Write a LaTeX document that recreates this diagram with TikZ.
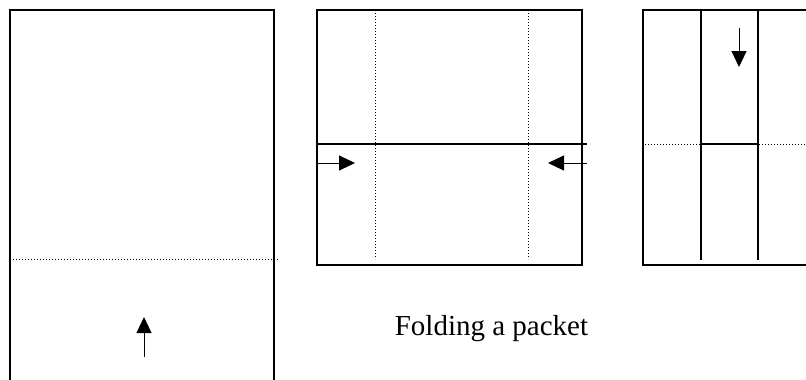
\documentclass[tikz,border=0pt]{standalone}
\usepackage{fontspec}
\setmainfont{Liberation Serif}
\usetikzlibrary{arrows.meta}
\begin{document}
\begin{tikzpicture}[x=1pt,y=-1pt,
  edge/.style={line width=1.8pt, line cap=rect},
  crease/.style={line width=1pt, dash pattern=on 1pt off 2pt},
  foldline/.style={line width=1.4pt},
  push/.style={line width=1pt, -{Triangle[length=16pt,width=15pt]}}]
\useasboundingbox (0,0) rectangle (806,380);

% sheet 1: tall strip, bottom flap folds up
\draw[edge] (10,380) -- (10,10) -- (274,10) -- (274,380);
\draw[crease] (13,259) -- (279,259);
\coordinate (a1) at (144,357);
\coordinate (a1t) at (144,317);
\draw[push] (a1) -- (a1t);

% sheet 2: sides fold in
\draw[edge] (317,10) rectangle (582,265);
\draw[foldline] (317,144) -- (587,144);
\draw[crease] (375,13) -- (375,259);
\draw[crease] (528,13) -- (528,259);
\coordinate (b1) at (317,163);
\coordinate (b1t) at (355,163);
\coordinate (b2) at (587,163);
\coordinate (b2t) at (548,163);
\draw[push] (b1) -- (b1t);
\draw[push] (b2) -- (b2t);

% sheet 3: top folds down
\draw[edge] (806,10) -- (643,10) -- (643,265) -- (806,265);
\draw[foldline] (701,10) -- (701,260);
\draw[foldline] (758,10) -- (758,260);
\draw[crease] (645,144) -- (806,144);
\draw[foldline] (701,144) -- (758,144);
\coordinate (c1) at (739,28);
\coordinate (c1t) at (739,67);
\draw[push] (c1) -- (c1t);

\node[font=\fontsize{29}{34}\selectfont, anchor=base, inner sep=0pt] (cap) at (491.5,335) {Folding a packet};
\end{tikzpicture}
\end{document}
